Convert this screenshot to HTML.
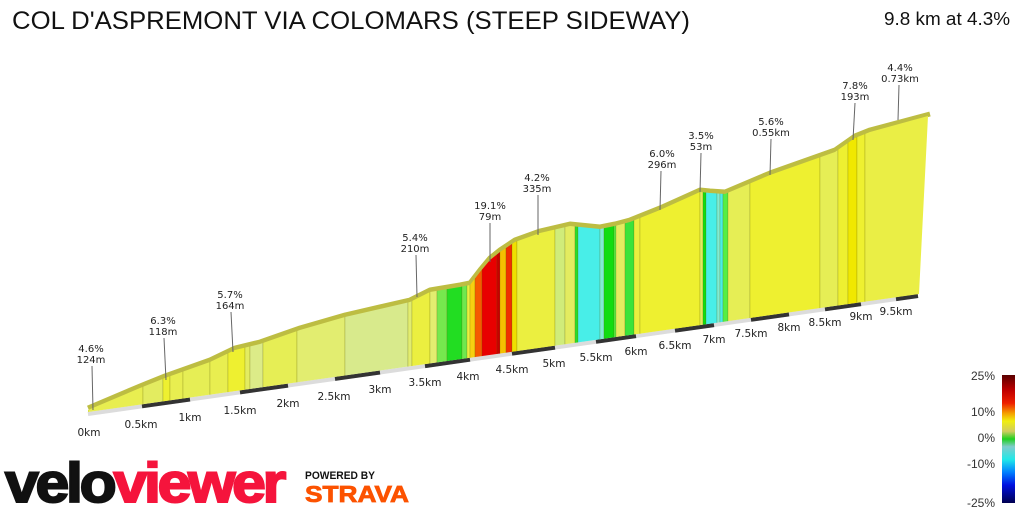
<!DOCTYPE html>
<html><head><meta charset="utf-8"><style>
html,body{margin:0;padding:0;background:#fff;width:1024px;height:512px;overflow:hidden}
svg{display:block}
.l{font-family:"DejaVu Sans","Liberation Sans",sans-serif;font-size:10px;fill:#222;text-anchor:middle}
.k{font-family:"DejaVu Sans","Liberation Sans",sans-serif;font-size:10.5px;fill:#222;text-anchor:middle}
</style></head><body>
<svg width="1024" height="512" viewBox="0 0 1024 512" xmlns="http://www.w3.org/2000/svg">
<defs>
<clipPath id="face"><polygon points="88,410 140,388 165,378 210,362 235,350 260,344 300,330 345,317 410,302 430,292 460,287 470,285 480,272 490,260 500,252 515,242 540,233 570,226 580,227 600,229 615,226 630,222 660,210 700,192 710,193 725,194 770,175 835,152 855,138 870,132 928,116 919,294 88,412"/></clipPath>
<linearGradient id="lg" x1="0" y1="0" x2="0" y2="1">
<stop offset="0" stop-color="#5a0000"/><stop offset="0.12" stop-color="#c00000"/><stop offset="0.22" stop-color="#ee2000"/><stop offset="0.3" stop-color="#f5a000"/><stop offset="0.36" stop-color="#f0ee10"/><stop offset="0.44" stop-color="#d0cc60"/><stop offset="0.5" stop-color="#20d020"/><stop offset="0.56" stop-color="#80cccc"/><stop offset="0.66" stop-color="#20e8e8"/><stop offset="0.76" stop-color="#0080ff"/><stop offset="0.86" stop-color="#0010e0"/><stop offset="1" stop-color="#000050"/>
</linearGradient>
</defs>
<text x="12" y="29" font-family="Liberation Sans,sans-serif" font-size="25" fill="#111" textLength="678" lengthAdjust="spacingAndGlyphs">COL D'ASPREMONT VIA COLOMARS (STEEP SIDEWAY)</text>
<text x="1010" y="25" font-family="Liberation Sans,sans-serif" font-size="18" fill="#111" text-anchor="end" textLength="126" lengthAdjust="spacingAndGlyphs">9.8 km at 4.3%</text>

<line x1="88" y1="414" x2="918" y2="296" stroke="#dcdcdc" stroke-width="4"/>
<g stroke="#333" stroke-width="4">
<line x1="142" y1="406.3" x2="190" y2="399.5"/><line x1="240" y1="392.4" x2="288" y2="385.6"/><line x1="335" y1="378.9" x2="380" y2="372.5"/><line x1="425" y1="366.1" x2="470" y2="359.7"/><line x1="512" y1="353.7" x2="555" y2="347.6"/><line x1="596" y1="341.8" x2="636" y2="336.1"/><line x1="675" y1="330.6" x2="714" y2="325.1"/><line x1="751" y1="319.8" x2="789" y2="314.4"/><line x1="825" y1="309.3" x2="861" y2="304.2"/><line x1="896" y1="299.1" x2="918" y2="296"/>
</g>
<polyline fill="none" stroke="#bdbd42" stroke-width="5" stroke-linejoin="round" points="88,408 140,386 165,376 210,360 235,348 260,342 300,328 345,315 410,300 430,290 460,285 470,283 480,270 490,258 500,250 515,240 540,231 570,224 580,225 600,227 615,224 630,220 660,208 700,190 710,191 725,192 770,173 835,150 855,136 870,130 930,114"/>
<g clip-path="url(#face)" stroke="rgba(90,90,0,0.25)" stroke-width="0.8">
<rect x="88" y="100" width="55" height="320" fill="#e8ee50"/>
<rect x="143" y="100" width="20" height="320" fill="#e3ec60"/>
<rect x="163" y="100" width="7" height="320" fill="#eef030"/>
<rect x="170" y="100" width="13" height="320" fill="#e8ee50"/>
<rect x="183" y="100" width="27" height="320" fill="#e6ee55"/>
<rect x="210" y="100" width="18" height="320" fill="#e8ee50"/>
<rect x="228" y="100" width="17" height="320" fill="#eef030"/>
<rect x="245" y="100" width="5" height="320" fill="#e3ec60"/>
<rect x="250" y="100" width="13" height="320" fill="#dceb88"/>
<rect x="263" y="100" width="34" height="320" fill="#e6ee55"/>
<rect x="297" y="100" width="48" height="320" fill="#e2ed70"/>
<rect x="345" y="100" width="63" height="320" fill="#d8ea8c"/>
<rect x="408" y="100" width="4" height="320" fill="#e2ed70"/>
<rect x="412" y="100" width="18" height="320" fill="#ebef40"/>
<rect x="430" y="100" width="7" height="320" fill="#e2ed70"/>
<rect x="437" y="100" width="10" height="320" fill="#76e84e"/>
<rect x="447" y="100" width="15" height="320" fill="#22dd22"/>
<rect x="462" y="100" width="5" height="320" fill="#6ee84e"/>
<rect x="467" y="100" width="3" height="320" fill="#e9ef3f"/>
<rect x="470" y="100" width="5" height="320" fill="#f7d010"/>
<rect x="475" y="100" width="7" height="320" fill="#f55a00"/>
<rect x="482" y="100" width="15" height="320" fill="#e80000"/>
<rect x="497" y="100" width="3" height="320" fill="#c80000"/>
<rect x="500" y="100" width="6" height="320" fill="#f5c000"/>
<rect x="506" y="100" width="6" height="320" fill="#f03000"/>
<rect x="512" y="100" width="5" height="320" fill="#f0e000"/>
<rect x="517" y="100" width="38" height="320" fill="#ebef40"/>
<rect x="555" y="100" width="10" height="320" fill="#d0ec7a"/>
<rect x="565" y="100" width="10" height="320" fill="#e3ec60"/>
<rect x="575" y="100" width="3" height="320" fill="#2adc2a"/>
<rect x="578" y="100" width="22" height="320" fill="#48eee8"/>
<rect x="600" y="100" width="4" height="320" fill="#80ecd4"/>
<rect x="604" y="100" width="10" height="320" fill="#11dd11"/>
<rect x="614" y="100" width="2" height="320" fill="#55ee45"/>
<rect x="616" y="100" width="9" height="320" fill="#e3ec60"/>
<rect x="625" y="100" width="9" height="320" fill="#3ae33a"/>
<rect x="634" y="100" width="6" height="320" fill="#e9ef3f"/>
<rect x="640" y="100" width="60" height="320" fill="#eef030"/>
<rect x="700" y="100" width="3" height="320" fill="#e3ec60"/>
<rect x="703" y="100" width="3" height="320" fill="#11dd11"/>
<rect x="706" y="100" width="11" height="320" fill="#48eee8"/>
<rect x="717" y="100" width="3" height="320" fill="#80ecd4"/>
<rect x="720" y="100" width="3" height="320" fill="#48eee8"/>
<rect x="723" y="100" width="5" height="320" fill="#55ee45"/>
<rect x="728" y="100" width="22" height="320" fill="#e6ee55"/>
<rect x="750" y="100" width="70" height="320" fill="#eef030"/>
<rect x="820" y="100" width="18" height="320" fill="#e6ee55"/>
<rect x="838" y="100" width="10" height="320" fill="#eef030"/>
<rect x="848" y="100" width="9" height="320" fill="#f0e800"/>
<rect x="857" y="100" width="8" height="320" fill="#eef030"/>
<rect x="865" y="100" width="70" height="320" fill="#eaee45"/>
</g>
<g stroke="#666" stroke-width="1">
<line x1="92" y1="366" x2="93" y2="410"/><line x1="164" y1="338" x2="166" y2="380"/><line x1="231" y1="312" x2="233" y2="352"/><line x1="416" y1="255" x2="417" y2="297"/><line x1="490" y1="223" x2="490" y2="262"/><line x1="538" y1="195" x2="538" y2="235"/><line x1="661" y1="171" x2="660" y2="210"/><line x1="701" y1="153" x2="700" y2="192"/><line x1="771" y1="139" x2="770" y2="175"/><line x1="855" y1="103" x2="853" y2="140"/><line x1="899" y1="85" x2="898" y2="120"/>
</g>
<g class="l">
<text x="91" y="352">4.6%</text><text x="91" y="363">124m</text>
<text x="163" y="324">6.3%</text><text x="163" y="335">118m</text>
<text x="230" y="298">5.7%</text><text x="230" y="309">164m</text>
<text x="415" y="241">5.4%</text><text x="415" y="252">210m</text>
<text x="490" y="209">19.1%</text><text x="490" y="220">79m</text>
<text x="537" y="181">4.2%</text><text x="537" y="192">335m</text>
<text x="662" y="157">6.0%</text><text x="662" y="168">296m</text>
<text x="701" y="139">3.5%</text><text x="701" y="150">53m</text>
<text x="771" y="125">5.6%</text><text x="771" y="136">0.55km</text>
<text x="855" y="89">7.8%</text><text x="855" y="100">193m</text>
<text x="900" y="71">4.4%</text><text x="900" y="82">0.73km</text>
</g>
<g class="k">
<text x="89" y="436">0km</text><text x="141" y="428">0.5km</text><text x="190" y="421">1km</text><text x="240" y="414">1.5km</text><text x="288" y="407">2km</text><text x="334" y="400">2.5km</text><text x="380" y="393">3km</text><text x="425" y="386">3.5km</text><text x="468" y="380">4km</text><text x="512" y="373">4.5km</text><text x="554" y="367">5km</text><text x="596" y="361">5.5km</text><text x="636" y="355">6km</text><text x="675" y="349">6.5km</text><text x="714" y="343">7km</text><text x="751" y="337">7.5km</text><text x="789" y="331">8km</text><text x="825" y="326">8.5km</text><text x="861" y="320">9km</text><text x="896" y="315">9.5km</text>
</g>
<rect x="1002" y="375" width="13" height="128" fill="url(#lg)"/>
<g font-family="Liberation Sans,sans-serif" font-size="12" fill="#333" text-anchor="end">
<text x="995" y="380">25%</text><text x="995" y="416">10%</text><text x="995" y="442">0%</text><text x="995" y="468">-10%</text><text x="995" y="507">-25%</text>
</g>
<text x="5" y="502" font-family="Liberation Sans,sans-serif" font-weight="bold" font-size="56" stroke-width="2" letter-spacing="-3" textLength="278" lengthAdjust="spacingAndGlyphs"><tspan fill="#111" stroke="#111">velo</tspan><tspan fill="#f5143c" stroke="#f5143c">viewer</tspan></text>
<text x="305" y="479" font-family="Liberation Sans,sans-serif" font-weight="bold" font-size="11" fill="#111" textLength="70" lengthAdjust="spacingAndGlyphs">POWERED BY</text>
<text x="305" y="502" font-family="Liberation Sans,sans-serif" font-weight="bold" font-size="23" fill="#fc5200" stroke="#fc5200" stroke-width="0.8" textLength="104" lengthAdjust="spacingAndGlyphs">STRAVA</text>
</svg>
</body></html>
